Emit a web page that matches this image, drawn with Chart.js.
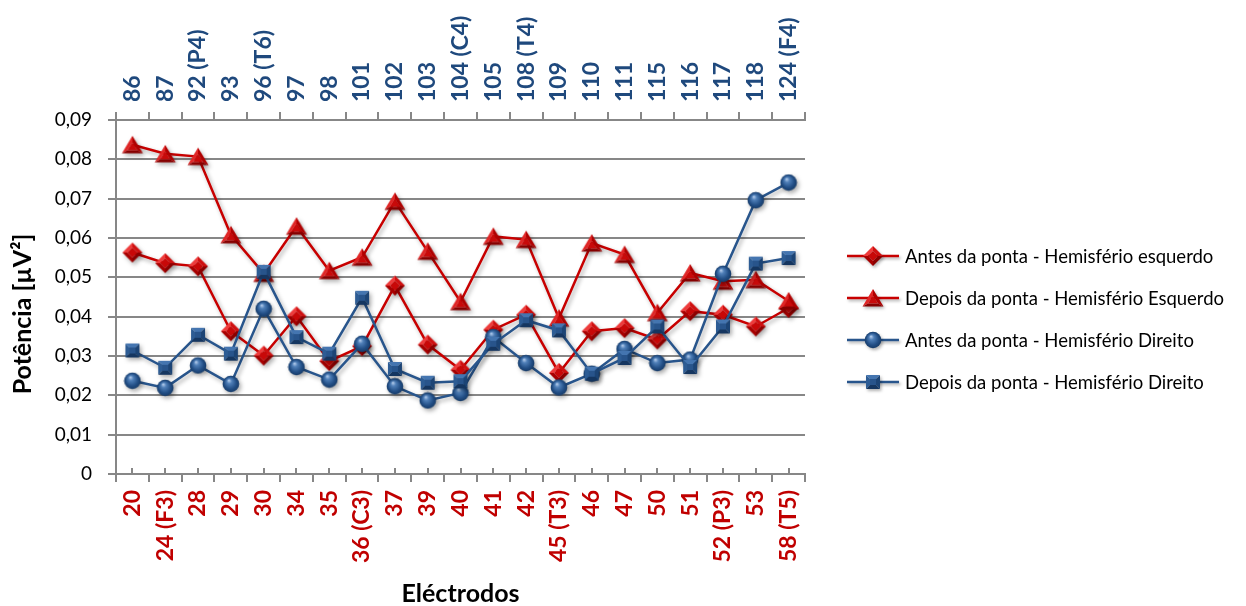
<!DOCTYPE html>
<html>
<head>
<meta charset="utf-8">
<script src="https://cdn.jsdelivr.net/npm/chart.js@4/dist/chart.umd.min.js"></script>
<style>
  html, body { margin: 0; padding: 0; background: #ffffff; }
  #wrap { width: 1246px; height: 606px; }
</style>
</head>
<body>
<div id="wrap"><canvas id="c" width="1246" height="606"></canvas></div>
<script>
// Electrode labels: left hemisphere on the bottom axis, right hemisphere on the top axis
const electrodesLeft = ['20', '24 (F3)', '28', '29', '30', '34', '35', '36 (C3)', '37', '39', '40',
  '41', '42', '45 (T3)', '46', '47', '50', '51', '52 (P3)', '53', '58 (T5)'];
const electrodesRight = ['86', '87', '92 (P4)', '93', '96 (T6)', '97', '98', '101', '102', '103', '104 (C4)',
  '105', '108 (T4)', '109', '110', '111', '115', '116', '117', '118', '124 (F4)'];

// Power values (µV²)
const antesEsquerdo = [0.0563, 0.0536, 0.0528, 0.0363, 0.0301, 0.0401, 0.0287, 0.0325, 0.0479, 0.0329, 0.0265,
  0.0367, 0.0405, 0.0257, 0.0363, 0.0371, 0.0342, 0.0414, 0.0405, 0.0375, 0.0422];
const depoisEsquerdo = [0.0837, 0.0814, 0.0807, 0.0608, 0.0510, 0.0630, 0.0517, 0.0551, 0.0693, 0.0566, 0.0438,
  0.0604, 0.0596, 0.0396, 0.0587, 0.0558, 0.0410, 0.0511, 0.0490, 0.0494, 0.0440];
const antesDireito = [0.0237, 0.0219, 0.0276, 0.0229, 0.0420, 0.0272, 0.0240, 0.0331, 0.0223, 0.0187, 0.0206,
  0.0348, 0.0282, 0.0220, 0.0255, 0.0318, 0.0282, 0.0291, 0.0509, 0.0696, 0.0741];
const depoisDireito = [0.0314, 0.0270, 0.0354, 0.0306, 0.0514, 0.0348, 0.0306, 0.0448, 0.0267, 0.0232, 0.0236,
  0.0331, 0.0391, 0.0365, 0.0255, 0.0295, 0.0375, 0.0272, 0.0375, 0.0535, 0.0549];

const seriesNames = [
  'Antes da ponta - Hemisfério esquerdo',
  'Depois da ponta - Hemisfério Esquerdo',
  'Antes da ponta - Hemisfério Direito',
  'Depois da ponta - Hemisfério Direito'
];

// Value axis
const yMin = 0, yMax = 0.09, yStep = 0.01;
const yTitle = 'Potência [µV²]';
const xTitle = 'Eléctrodos';

const RED = '#c80000';
const BLUE = '#28558c';
const GREY = '#878787';
const FONT = 'Lato, "Open Sans", sans-serif';

// ---- shaded marker sprites ----
function sprite(w, h, paint) {
  const c = document.createElement('canvas');
  c.width = w; c.height = h;
  paint(c.getContext('2d'));
  return c;
}
function poly(ctx, pts, fill) {
  ctx.beginPath();
  ctx.moveTo(pts[0][0], pts[0][1]);
  for (let i = 1; i < pts.length; i++) ctx.lineTo(pts[i][0], pts[i][1]);
  ctx.closePath();
  ctx.fillStyle = fill;
  ctx.fill();
}
const diamondMark = sprite(22, 22, ctx => {
  const c = 11, r = 10, q = 5;
  const T = [c, c - r], R = [c + r, c], B = [c, c + r], L = [c - r, c];
  const t = [c, c - q], rr = [c + q, c], b = [c, c + q], l = [c - q, c];
  poly(ctx, [L, T, t, l], '#ee3b3b');
  poly(ctx, [T, R, rr, t], '#cf1010');
  poly(ctx, [R, B, b, rr], '#8c0000');
  poly(ctx, [B, L, l, b], '#a80000');
  poly(ctx, [t, rr, b, l], '#c80808');
});
const triangleMark = sprite(24, 20, ctx => {
  const A = [12, 1], BL = [1.5, 18.5], BR = [22.5, 18.5];
  const a = [12, 7.5], bl = [7, 15.5], br = [17, 15.5];
  poly(ctx, [A, BL, bl, a], '#e02626');
  poly(ctx, [A, BR, br, a], '#b00000');
  poly(ctx, [BL, BR, br, bl], '#860000');
  poly(ctx, [a, br, bl], '#c80a0a');
});
const circleMark = sprite(18, 18, ctx => {
  const g = ctx.createRadialGradient(7, 5.5, 0.5, 9, 9, 8.5);
  g.addColorStop(0, '#a9c4e6');
  g.addColorStop(0.25, '#4f7fb8');
  g.addColorStop(0.7, '#224e85');
  g.addColorStop(1, '#163a66');
  ctx.beginPath();
  ctx.arc(9, 9, 8.3, 0, Math.PI * 2);
  ctx.fillStyle = g;
  ctx.fill();
});
const squareMark = sprite(16, 16, ctx => {
  const o0 = 1, o1 = 15, i0 = 5, i1 = 11;
  poly(ctx, [[o0, o0], [o1, o0], [i1, i0], [i0, i0]], '#4475b0');
  poly(ctx, [[o0, o0], [i0, i0], [i0, i1], [o0, o1]], '#2d5c94');
  poly(ctx, [[o1, o0], [o1, o1], [i1, i1], [i1, i0]], '#1c4475');
  poly(ctx, [[o0, o1], [i0, i1], [i1, i1], [o1, o1]], '#153660');
  poly(ctx, [[i0, i0], [i1, i0], [i1, i1], [i0, i1]], '#28548b');
});

const marks = [diamondMark, triangleMark, circleMark, squareMark];
const colours = [RED, RED, BLUE, BLUE];
const values = [antesEsquerdo, depoisEsquerdo, antesDireito, depoisDireito];

// soft drop shadow under lines and markers
const shadowPlugin = {
  id: 'shadow',
  beforeDatasetsDraw(chart) {
    const c = chart.ctx;
    c.save();
    c.shadowColor = 'rgba(0,0,0,0.32)';
    c.shadowBlur = 4;
    c.shadowOffsetX = 2;
    c.shadowOffsetY = 2.5;
  },
  afterDatasetsDraw(chart) { chart.ctx.restore(); }
};

// rotated electrode labels, axis titles, centre ticks and legend
const decorPlugin = {
  id: 'decor',
  afterDraw(chart) {
    const ctx = chart.ctx, ca = chart.chartArea;
    const xs = chart.scales.x, xt = chart.scales.x2;
    ctx.save();

    // short inward ticks at category centres on the bottom axis
    ctx.strokeStyle = GREY;
    ctx.lineWidth = 2;
    electrodesLeft.forEach((_, i) => {
      const px = Math.round(xs.getPixelForValue(i));
      ctx.beginPath();
      ctx.moveTo(px, ca.bottom);
      ctx.lineTo(px, ca.bottom - 6);
      ctx.stroke();
    });

    // bottom axis labels (left hemisphere), reading upwards, ending near the axis
    ctx.font = 'bold 23px ' + FONT;
    ctx.fillStyle = '#c00000';
    ctx.textBaseline = 'middle';
    electrodesLeft.forEach((lab, i) => {
      const px = xs.getPixelForValue(i);
      ctx.save();
      ctx.translate(px, ca.bottom + 16);
      ctx.rotate(-Math.PI / 2);
      ctx.textAlign = 'right';
      ctx.fillText(lab, 0, 0);
      ctx.restore();
    });

    // top axis labels (right hemisphere), reading upwards, starting near the axis
    ctx.fillStyle = '#1f497d';
    electrodesRight.forEach((lab, i) => {
      const px = xt.getPixelForValue(i);
      ctx.save();
      ctx.translate(px, ca.top - 18);
      ctx.rotate(-Math.PI / 2);
      ctx.textAlign = 'left';
      ctx.fillText(lab, 0, 0);
      ctx.restore();
    });

    // axis titles
    ctx.fillStyle = '#000000';
    ctx.font = 'bold 25px ' + FONT;
    ctx.textAlign = 'center';
    ctx.fillText(xTitle, (ca.left + ca.right) / 2, 594);
    ctx.save();
    ctx.translate(23, 314);
    ctx.rotate(-Math.PI / 2);
    ctx.fillText(yTitle, 0, 0);
    ctx.restore();

    // legend
    const rows = [256, 298, 340, 382];
    ctx.font = '18.5px ' + FONT;
    ctx.textAlign = 'left';
    seriesNames.forEach((name, k) => {
      const y = rows[k];
      ctx.save();
      ctx.shadowColor = 'rgba(0,0,0,0.3)';
      ctx.shadowBlur = 3;
      ctx.shadowOffsetX = 1.5;
      ctx.shadowOffsetY = 2;
      ctx.strokeStyle = colours[k];
      ctx.lineWidth = 2.5;
      ctx.beginPath();
      ctx.moveTo(847, y);
      ctx.lineTo(899, y);
      ctx.stroke();
      const m = marks[k];
      ctx.drawImage(m, 873 - m.width / 2, y - m.height / 2);
      ctx.restore();
      ctx.fillStyle = '#000000';
      ctx.fillText(name, 905, y + 1);
    });
    ctx.restore();
  }
};

const datasets = values.map((v, k) => ({
  label: seriesNames[k],
  data: v,
  xAxisID: 'x',
  yAxisID: 'y',
  borderColor: colours[k],
  backgroundColor: colours[k],
  borderWidth: 2.5,
  tension: 0,
  pointStyle: marks[k],
  pointRadius: 8,
  pointHoverRadius: 8,
  order: 4 - k
}));

new Chart(document.getElementById('c'), {
  type: 'line',
  data: { labels: electrodesLeft, datasets },
  options: {
    responsive: false,
    animation: false,
    devicePixelRatio: 1,
    layout: { padding: { left: 0, right: 441, top: 0, bottom: 0 } },
    plugins: { legend: { display: false }, tooltip: { enabled: false } },
    scales: {
      x: {
        type: 'category',
        position: 'bottom',
        offset: true,
        grid: { offset: true, drawOnChartArea: false, drawTicks: true, tickLength: 8, color: GREY, lineWidth: 2 },
        border: { color: GREY, width: 2 },
        ticks: { display: false },
        afterFit(s) { s.height = 132; }
      },
      x2: {
        type: 'category',
        position: 'top',
        labels: electrodesRight,
        offset: true,
        grid: { offset: true, drawOnChartArea: false, drawTicks: true, tickLength: 8, color: GREY, lineWidth: 2 },
        border: { color: GREY, width: 2 },
        ticks: { display: false },
        afterFit(s) { s.height = 120; }
      },
      y: {
        position: 'left',
        min: yMin,
        max: yMax,
        grid: { color: GREY, lineWidth: 2, drawTicks: true, tickLength: 8 },
        border: { color: GREY, width: 2 },
        ticks: {
          stepSize: yStep,
          padding: 16,
          color: '#000000',
          font: { family: FONT, size: 19 },
          callback: v => (Math.abs(v) < 1e-9 ? '0' : v.toFixed(2).replace('.', ','))
        },
        afterFit(s) { s.width = 116; }
      }
    }
  },
  plugins: [shadowPlugin, decorPlugin]
});
</script>
</body>
</html>
